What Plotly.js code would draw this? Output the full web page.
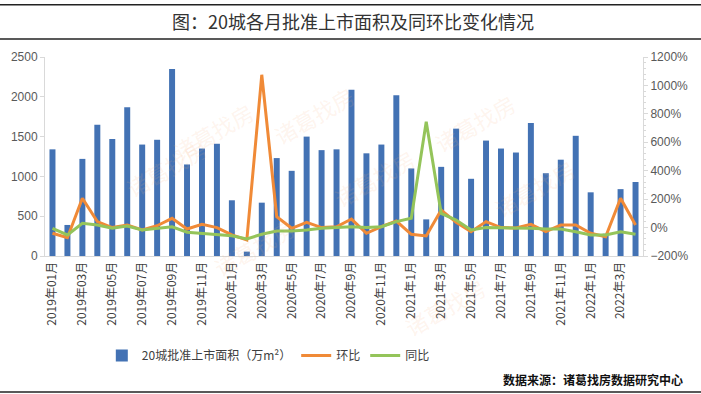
<!DOCTYPE html>
<html>
<head>
<meta charset="utf-8">
<script src="https://cdn.plot.ly/plotly-3.0.1.min.js"></script>
<style>html,body{margin:0;padding:0;background:#fff;}#chart{width:701px;height:394px;}</style>
</head>
<body>
<div id="chart"></div>
<script>
const months = [
  "2019年01月","2019年02月","2019年03月","2019年04月","2019年05月","2019年06月",
  "2019年07月","2019年08月","2019年09月","2019年10月","2019年11月","2019年12月",
  "2020年1月","2020年2月","2020年3月","2020年4月","2020年5月","2020年6月",
  "2020年7月","2020年8月","2020年9月","2020年10月","2020年11月","2020年12月",
  "2021年1月","2021年2月","2021年3月","2021年4月","2021年5月","2021年6月",
  "2021年7月","2021年8月","2021年9月","2021年10月","2021年11月","2021年12月",
  "2022年1月","2022年2月","2022年3月","2022年4月"
];
const area = [
  1340, 390, 1220, 1650, 1470, 1870, 1400, 1460, 2350, 1150, 1350, 1410,
  700, 55, 670, 1230, 1070, 1500, 1330, 1340, 2090, 1290, 1400, 2020,
  1100, 460, 1120, 1600, 970, 1450, 1350, 1300, 1670, 1040, 1210, 1510,
  800, 280, 840, 930
];
const mom = [
  -40, -71, 206, 42, 0, 18, -17, 13, 65, -10, 23, 0,
  -52, -87, 1075, 77, -5, 37, 0, 6, 60, -40, 6, 46,
  -47, -59, 124, 37, -29, 42, 0, -3, 23, -29, 18, 18,
  -40, -64, 206, 18
];
const yoy = [
  -5, -52, 30, 18, -5, 11, -17, -5, 6, -33, -40, -47,
  -57, -80, -47, -24, -24, -17, -5, 0, 6, 0, 6, 42,
  65, 745, 100, 53, -17, 0, 0, 0, -5, -10, -10, -29,
  -52, -52, -29, -47
];
const tickMonths = months.filter((m, i) => i % 2 === 0);

const font = "Liberation Sans, Noto Sans CJK SC, sans-serif";
const cjk = "Noto Sans CJK SC, sans-serif";

const traces = [
  {type: "bar", x: months, y: area, name: "20城批准上市面积（万m²）",
   marker: {color: "#4372B4"}, yaxis: "y"},
  {type: "scatter", mode: "lines", x: months, y: mom, name: "环比",
   line: {color: "#F08A37", width: 3}, yaxis: "y2"},
  {type: "scatter", mode: "lines", x: months, y: yoy, name: "同比",
   line: {color: "#94C45A", width: 3}, yaxis: "y2"}
];

const marks = [];
const wm = [[0.2, 0.82], [0.45, 0.9], [0.8, 0.86], [0.12, 0.25], [0.55, 0.2], [0.9, 0.15], [0.35, -0.15], [0.75, -0.45]];
wm.forEach(p => marks.push({xref: "paper", yref: "paper", x: p[0], y: p[1], text: "诸葛找房",
  showarrow: false, textangle: -30, font: {family: cjk, size: 22, color: "rgba(250,180,130,0.14)"}}));
marks.push({xref: "paper", yref: "paper", x: 0.515, y: 1.18, yanchor: "middle",
  text: "图：20城各月批准上市面积及同环比变化情况", showarrow: false,
  font: {family: cjk, size: 18, color: "#333"}});
marks.push({xref: "paper", yref: "paper", x: 1.07, xanchor: "right", y: -0.62, yanchor: "middle",
  text: "<b>数据来源：诸葛找房数据研究中心</b>", showarrow: false,
  font: {family: cjk, size: 12, color: "#111"}});

const layout = {
  width: 701, height: 394,
  margin: {l: 45, r: 58, t: 57, b: 138},
  paper_bgcolor: "#fff", plot_bgcolor: "rgba(0,0,0,0)",
  font: {family: font, size: 12, color: "#595959"},
  bargap: 0.6,
  showlegend: true,
  legend: {orientation: "h", x: 0.095, xanchor: "left", y: -0.5, yanchor: "middle",
    font: {family: cjk, size: 12, color: "#404040"}, bgcolor: "rgba(0,0,0,0)", itemwidth: 30},
  xaxis: {type: "category", categoryorder: "array", categoryarray: months,
    tickmode: "array", tickvals: tickMonths, ticktext: tickMonths,
    tickangle: -90, tickfont: {family: cjk, size: 12, color: "#404040"},
    showline: true, linecolor: "#d9d9d9", linewidth: 1, showgrid: false, ticks: "", zeroline: false},
  yaxis: {range: [0, 2500], dtick: 500, showgrid: false, zeroline: false,
    showline: true, linecolor: "#d9d9d9", ticks: "outside", ticklen: 4, tickcolor: "#d9d9d9",
    tickfont: {size: 12, color: "#595959"}},
  yaxis2: {range: [-200, 1200], dtick: 200, overlaying: "y", side: "right", ticksuffix: "%",
    showgrid: false, zeroline: false, showline: true, linecolor: "#d9d9d9",
    ticks: "outside", ticklen: 4, tickcolor: "#d9d9d9",
    minor: {ticks: "outside", ticklen: 2, dtick: 40, tickcolor: "#d9d9d9"},
    tickfont: {size: 12, color: "#595959"}},
  annotations: marks,
  shapes: [
    {type: "line", xref: "paper", yref: "paper", x0: -0.08, x1: 1.1, y0: 1.262, y1: 1.262, line: {color: "#222", width: 1.5}},
    {type: "line", xref: "paper", yref: "paper", x0: -0.08, x1: 1.1, y0: 1.09, y1: 1.09, line: {color: "#222", width: 1.5}},
    {type: "line", xref: "paper", yref: "paper", x0: -0.08, x1: 1.1, y0: -0.683, y1: -0.683, line: {color: "#222", width: 1.5}}
  ]
};

Plotly.newPlot("chart", traces, layout, {displayModeBar: false, staticPlot: true});
</script>
</body>
</html>
